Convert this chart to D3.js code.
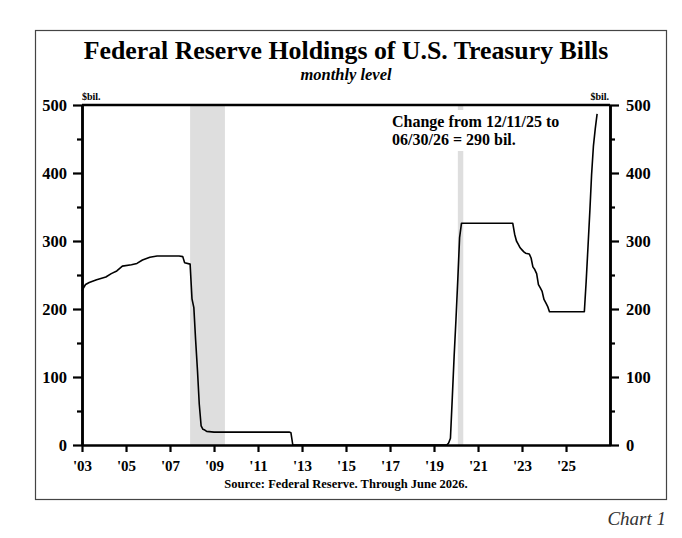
<!DOCTYPE html>
<html>
<head>
<meta charset="utf-8">
<script src="https://cdn.jsdelivr.net/npm/d3@7"></script>
<style>
  body { margin: 0; background: #fff; }
  svg { display: block; font-family: "Liberation Serif", "Times New Roman", serif; }
</style>
</head>
<body>
<div id="chart"></div>
<script>
'use strict';

// monthly level, $bil.
const months = [
    "2003-01", "2003-02", "2003-03", "2003-05", "2003-09", "2004-02", "2004-05", "2004-08",
    "2004-11", "2005-04", "2005-07", "2005-10", "2006-02", "2006-06", "2007-06", "2007-08",
    "2007-09", "2007-12", "2008-01", "2008-02", "2008-03", "2008-04", "2008-05", "2008-06",
    "2008-07", "2008-08", "2008-09", "2009-01", "2012-06", "2012-07", "2012-08", "2019-08",
    "2019-09", "2019-10", "2019-11", "2019-12", "2020-01", "2020-02", "2020-03", "2020-04",
    "2022-08", "2022-09", "2022-10", "2022-11", "2022-12", "2023-01", "2023-02", "2023-03",
    "2023-05", "2023-06", "2023-07", "2023-08", "2023-09", "2023-10", "2023-11", "2023-12",
    "2024-01", "2024-02", "2024-03", "2024-04", "2025-11", "2025-12", "2026-01", "2026-02",
    "2026-03", "2026-04", "2026-05", "2026-06"
];
const holdings = [
    227, 232, 236, 239, 243, 247, 252, 256,
    263, 265, 267, 272, 276, 278, 278, 277,
    268, 266, 215, 202, 155, 110, 60, 28,
    23, 22, 20, 19, 19, 18, 0, 0,
    3, 10, 70, 130, 185, 245, 305, 326,
    326, 310, 300, 295, 290, 287, 284, 282,
    281, 275, 262, 258, 252, 236, 231, 226,
    214, 209, 204, 196, 196, 240, 292, 345,
    397, 440, 465, 487
];

const recessionStarts = ["2007-12", "2020-02"];
const recessionEnds = ["2009-07", "2020-05"];

const yTicks = [0, 100, 200, 300, 400, 500];
const yMinorTicks = [50, 150, 250, 350, 450];
const xTickYears = [2003, 2005, 2007, 2009, 2011, 2013, 2015, 2017, 2019, 2021, 2023, 2025];

const width = 682,
    height = 538,
    plot = {left: 82, right: 610, top: 105, bottom: 445};

const parseMonth = d3.timeParse("%Y-%m");
const data = months.map((m, i) => ({date: parseMonth(m), value: holdings[i]}));

const svg = d3.select("#chart")
    .append("svg")
    .attr("width", width)
    .attr("height", height);

svg.append("rect")
    .attr("width", width)
    .attr("height", height)
    .attr("fill", "#fff");

// outer frame
svg.append("rect")
    .attr("x", 35.5)
    .attr("y", 30.5)
    .attr("width", 631)
    .attr("height", 469)
    .attr("fill", "none")
    .attr("stroke", "#444")
    .attr("stroke-width", 1.2);

const xScale = d3.scaleTime()
    .domain([new Date(2003, 0, 1), new Date(2027, 0, 1)])
    .range([plot.left, plot.right]);

const yScale = d3.scaleLinear()
    .domain([0, 500])
    .range([plot.bottom, plot.top]);

// recessions
svg.selectAll(".recession")
    .data(recessionStarts.map((s, i) => [parseMonth(s), parseMonth(recessionEnds[i])]))
    .join("rect")
    .attr("class", "recession")
    .attr("x", d => xScale(d[0]))
    .attr("width", d => xScale(d[1]) - xScale(d[0]))
    .attr("y", plot.top)
    .attr("height", plot.bottom - plot.top)
    .attr("fill", "#dedede");

// annotation sits on a white patch
svg.append("rect")
    .attr("x", 388)
    .attr("y", 110)
    .attr("width", 178)
    .attr("height", 41)
    .attr("fill", "#fff");

const annot = svg.append("text")
    .attr("x", 392)
    .attr("font-size", "16px")
    .attr("font-weight", "bold");
annot.append("tspan").attr("x", 392).attr("y", 127).text("Change from 12/11/25 to");
annot.append("tspan").attr("x", 392).attr("y", 145).text("06/30/26 = 290 bil.");

const line = d3.line()
    .x(d => xScale(d.date))
    .y(d => yScale(d.value));

svg.append("path")
    .datum(data)
    .attr("fill", "none")
    .attr("stroke", "#000")
    .attr("stroke-width", 1.6)
    .attr("stroke-linejoin", "round")
    .attr("d", line);

function styleAxis(g, size) {
    g.attr("font-family", null).attr("font-size", null);
    g.select(".domain").attr("stroke-width", 2.5);
    g.selectAll(".tick line").attr("stroke-width", 2.2);
    g.selectAll(".tick text")
        .attr("font-size", size)
        .attr("font-weight", "bold")
        .attr("fill", "#000");
}

// y axes, left and right
svg.append("g")
    .attr("transform", `translate(${plot.left},0)`)
    .call(d3.axisLeft(yScale).tickValues(yMinorTicks).tickSize(5).tickSizeOuter(0).tickFormat(""))
    .call(g => styleAxis(g, "16.5px"));
svg.append("g")
    .attr("transform", `translate(${plot.left},0)`)
    .call(d3.axisLeft(yScale).tickValues(yTicks).tickSize(9).tickPadding(6).tickSizeOuter(0).tickFormat(d3.format("d")))
    .call(g => styleAxis(g, "16.5px"));

svg.append("g")
    .attr("transform", `translate(${plot.right},0)`)
    .call(d3.axisRight(yScale).tickValues(yMinorTicks).tickSize(5).tickSizeOuter(0).tickFormat(""))
    .call(g => styleAxis(g, "16.5px"));
svg.append("g")
    .attr("transform", `translate(${plot.right},0)`)
    .call(d3.axisRight(yScale).tickValues(yTicks).tickSize(9).tickPadding(7).tickSizeOuter(0).tickFormat(d3.format("d")))
    .call(g => styleAxis(g, "16.5px"));

// top frame line
svg.append("line")
    .attr("x1", plot.left)
    .attr("x2", plot.right)
    .attr("y1", plot.top)
    .attr("y2", plot.top)
    .attr("stroke", "#000")
    .attr("stroke-width", 2.5);

// x axis
svg.append("g")
    .attr("transform", `translate(0,${plot.bottom})`)
    .call(d3.axisBottom(xScale)
        .tickValues(xTickYears.map(y => new Date(y, 0, 1)))
        .tickSize(7)
        .tickPadding(8)
        .tickSizeOuter(0)
        .tickFormat(d3.timeFormat("'%y")))
    .call(g => styleAxis(g, "15px"));

// units
svg.append("text")
    .attr("x", plot.left)
    .attr("y", 100)
    .attr("font-size", "10px")
    .attr("font-weight", "bold")
    .text("$bil.");
svg.append("text")
    .attr("x", plot.right - 1)
    .attr("y", 100)
    .attr("text-anchor", "end")
    .attr("font-size", "10px")
    .attr("font-weight", "bold")
    .text("$bil.");

// titles
svg.append("text")
    .attr("x", (plot.left + plot.right) / 2)
    .attr("y", 59)
    .attr("text-anchor", "middle")
    .attr("font-size", "25.8px")
    .attr("font-weight", "bold")
    .text("Federal Reserve Holdings of U.S. Treasury Bills");
svg.append("text")
    .attr("x", (plot.left + plot.right) / 2)
    .attr("y", 80)
    .attr("text-anchor", "middle")
    .attr("font-size", "16.5px")
    .attr("font-weight", "bold")
    .attr("font-style", "italic")
    .text("monthly level");

svg.append("text")
    .attr("x", (plot.left + plot.right) / 2)
    .attr("y", 488)
    .attr("text-anchor", "middle")
    .attr("font-size", "12.5px")
    .attr("font-weight", "bold")
    .text("Source: Federal Reserve. Through June 2026.");

svg.append("text")
    .attr("x", 666)
    .attr("y", 525)
    .attr("text-anchor", "end")
    .attr("font-size", "19px")
    .attr("font-style", "italic")
    .attr("fill", "#333")
    .text("Chart 1");
</script>
</body>
</html>
